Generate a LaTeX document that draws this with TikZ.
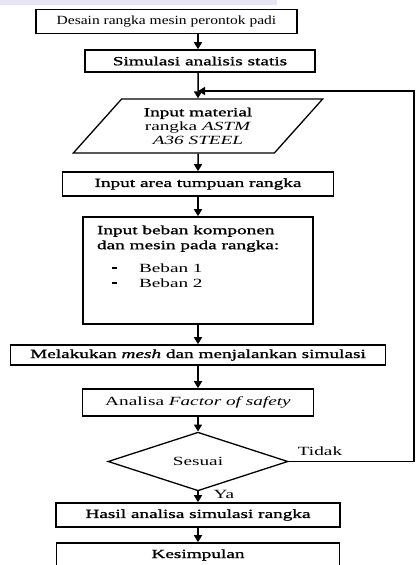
\documentclass[tikz,border=0pt]{standalone}
\usepackage{fontspec}
\setmainfont[FakeStretch=1.54]{Liberation Serif}
\newfontfamily\tebal[FakeStretch=1.54,FakeBold=1.2]{Liberation Serif}
\newfontfamily\sempit[FakeStretch=1.24]{Liberation Serif}
\usetikzlibrary{arrows.meta,shapes.geometric,positioning}
\newcommand{\ukuran}{\fontsize{12.5}{14}\selectfont}
\definecolor{lembayung}{RGB}{232,230,246}
\tikzset{
  proses/.style={
    shape = rectangle,
    draw,
    line width = 1.6pt,
    inner sep = 0pt,
    minimum height = 24pt,
    font = \ukuran
  },
  data/.style={
    shape = trapezium,
    draw,
    line width = 1.3pt,
    inner sep = 0pt,
    trapezium left angle = 47,
    trapezium right angle = 133,
    trapezium stretches = true,
    minimum width = 250pt,
    minimum height = 54pt,
    align = center,
    font = \ukuran
  },
  keputusan/.style={
    shape = diamond,
    draw,
    line width = 1.3pt,
    inner sep = 0pt,
    minimum width = 180pt,
    minimum height = 49pt,
    font = \ukuran
  },
  panah/.style={
    line width = 1.5pt,
    -{Triangle[width=8pt,length=7pt]}
  },
  ket/.style={
    inner sep = 0pt,
    font = \ukuran
  }
}

\begin{document}
\begin{tikzpicture}[x=1pt,y=-1pt]
  \useasboundingbox (0,0) rectangle (417,565);
  \fill[lembayung] (0,0) rectangle (277,5);

  \node[proses,minimum width=261pt,font=\ukuran\sempit] (desain) at (166.5,21.5) {Desain rangka mesin perontok padi};
  \node[proses,minimum width=230pt,minimum height=22pt,font=\ukuran\tebal] (simulasi) at (200,61) {Simulasi analisis statis};
  \node[data] (material) at (198,126) {{\tebal Input material}\\rangka \textit{ASTM}\\\textit{A36 STEEL}};
  \node[proses,minimum width=271pt,font=\ukuran\tebal] (tumpuan) at (198,184) {Input area tumpuan rangka};
  \node[proses,minimum width=230pt,minimum height=107pt] (beban) at (198,270.5) {%
    \begin{minipage}[c][107pt][t]{202pt}
      \vspace*{8.5pt}\baselineskip=15pt
      {\tebal Input beban komponen}\\
      {\tebal dan mesin pada rangka:}\\[8pt]
      \hspace*{15pt}\rule[3pt]{5pt}{2.2pt}\hspace{22pt}Beban 1\\
      \hspace*{15pt}\rule[3pt]{5pt}{2.2pt}\hspace{22pt}Beban 2
    \end{minipage}};
  \node[proses,minimum width=375pt,minimum height=20pt,font=\ukuran\tebal] (mesh) at (198,355) {Melakukan \textit{mesh} dan menjalankan simulasi};
  \node[proses,minimum width=231pt,minimum height=27pt] (fos) at (198,402.5) {Analisa \textit{Factor of safety}};
  \node[keputusan] (sesuai) at (198,461.5) {Sesuai};
  \node[proses,minimum width=284pt,font=\ukuran\tebal] (hasil) at (198,515) {Hasil analisa simulasi rangka};
  \node[proses,minimum width=283pt,font=\ukuran\tebal] (kesimpulan) at (198,555) {Kesimpulan};

  \node[ket] (tidak) at (320,451) {Tidak};
  \node[ket] (ya) at (224,494) {Ya};

  \coordinate (kanan) at (414,91);
  \coordinate (balik) at (198,91);
  \coordinate (atas) at (simulasi.north -| balik);

  \draw[panah] (atas |- desain.south) -- (atas);
  \draw[panah] (simulasi.south -| balik) -- (material);
  \draw[panah] (material) -- (tumpuan);
  \draw[panah] (tumpuan) -- (beban);
  \draw[panah] (beban) -- (mesh);
  \draw[panah] (mesh) -- (fos);
  \draw[panah] (fos) -- (sesuai);
  \draw[panah] (sesuai) -- (hasil);
  \draw[panah] (hasil) -- (kesimpulan);
  \draw[panah,line width=1.3pt] (sesuai.east) -| (kanan) -- (balik);
\end{tikzpicture}
\end{document}
